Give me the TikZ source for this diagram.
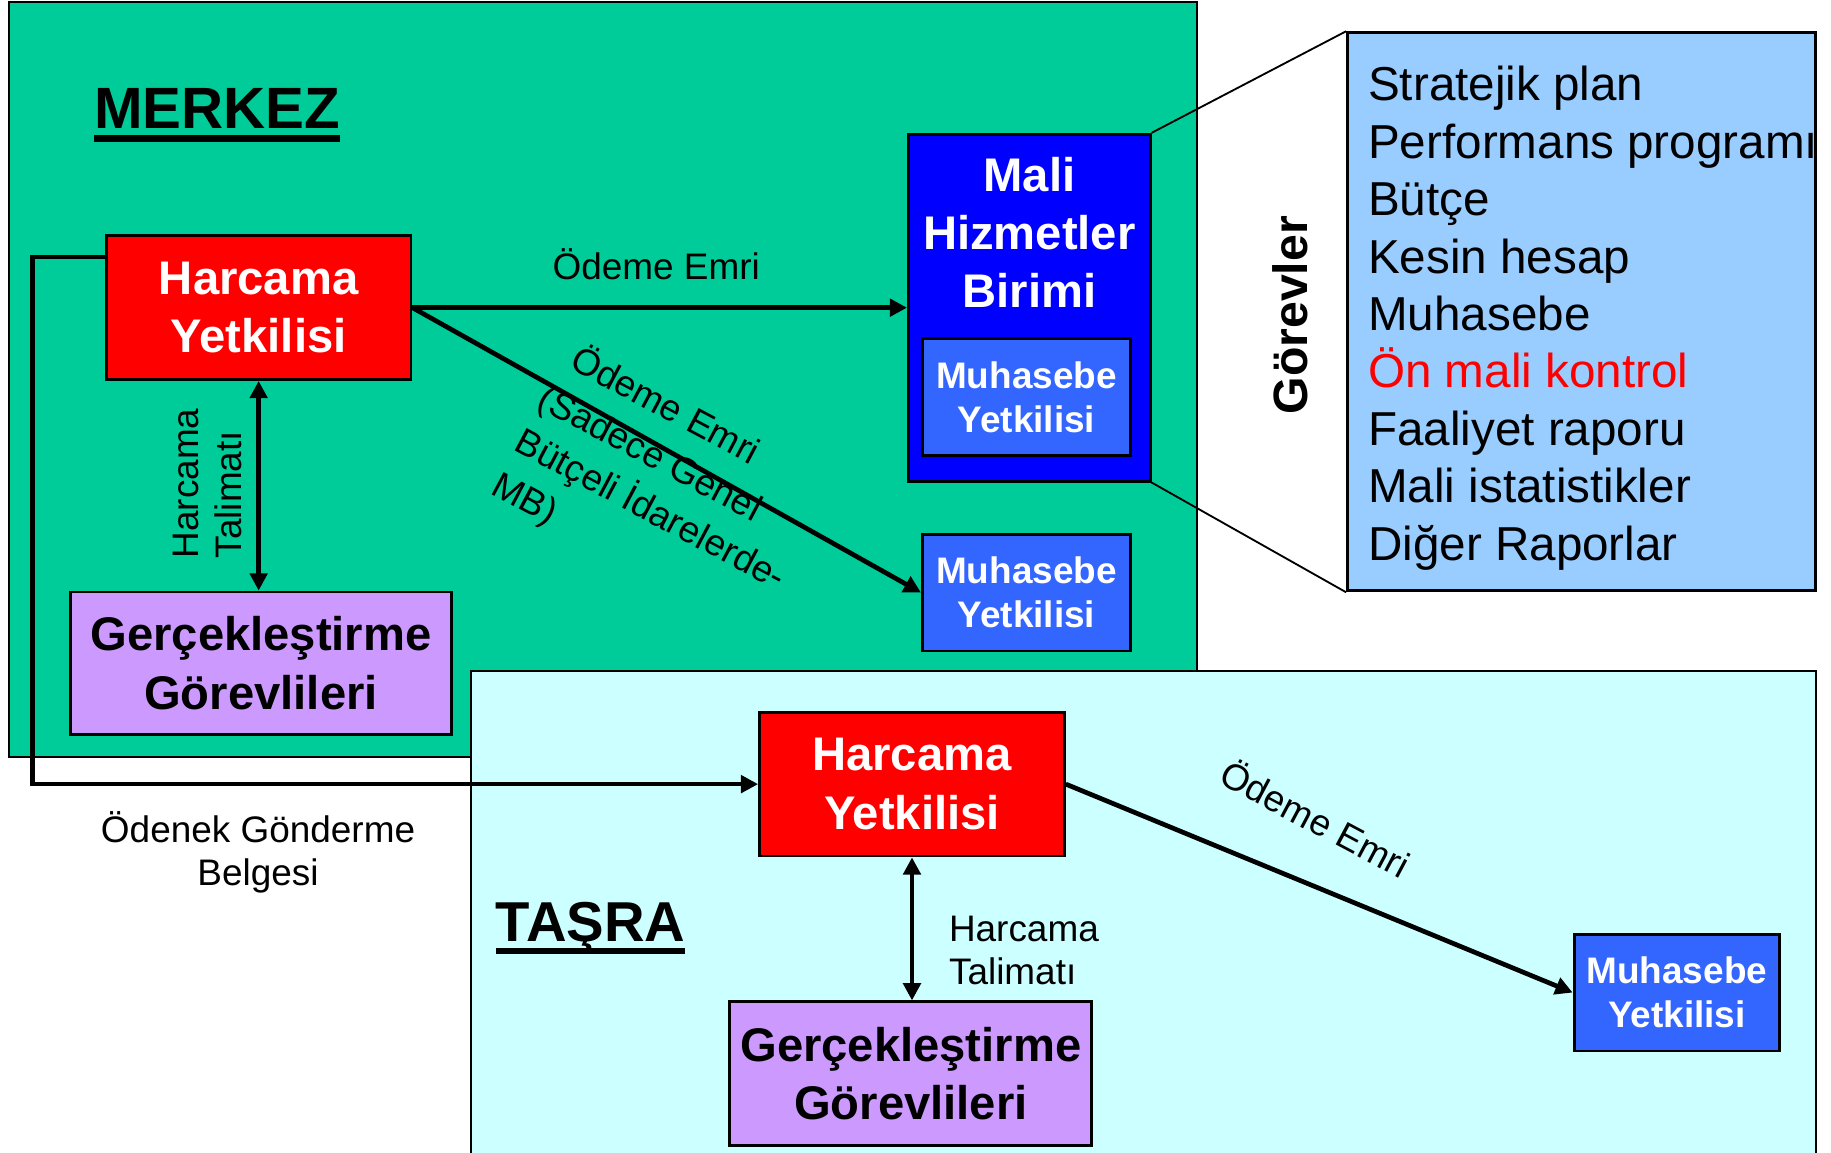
\documentclass[tikz,border=0pt]{standalone}
\usepackage{fontspec}
\setmainfont{Liberation Sans}
\usetikzlibrary{arrows.meta}

\definecolor{merkezgreen}{HTML}{00CC99}
\definecolor{tasracyan}{HTML}{CCFFFF}
\definecolor{harcamared}{HTML}{FF0000}
\definecolor{gorevlilila}{HTML}{CC99FF}
\definecolor{maliblue}{HTML}{0000FF}
\definecolor{muhasebeblue}{HTML}{3366FF}
\definecolor{panelblue}{HTML}{99CCFF}

\newcommand{\thickul}[1]{\setbox0\hbox{#1}\rlap{\rule[-0.23em]{\wd0}{0.115em}}\box0}

\begin{document}
\begin{tikzpicture}[x=0.1mm,y=-0.1mm,region/.style={draw,line width=0.5pt},unitlabel/.style={inner sep=0pt,align=center,font=\fontsize{11.5}{14.2}\selectfont\bfseries},unit/.style={unitlabel,draw,line width=0.7pt},harcama/.style={unit,fill=harcamared,text=white,minimum width=26.1mm,minimum height=12.3mm},gorevli/.style={unit,fill=gorevlilila,minimum height=12.2mm},muhasebe/.style={unit,fill=muhasebeblue,text=white,minimum width=17.8mm,minimum height=10mm,font=\fontsize{9}{10.8}\selectfont\bfseries},flow/.style={line width=1.15pt,-{Triangle[length=4.2pt,width=4.2pt]}},twoway/.style={line width=1.15pt,{Triangle[length=4.2pt,width=4.2pt]}-{Triangle[length=4.2pt,width=4.2pt]}},zoomline/.style={line width=0.45pt},note/.style={inner sep=0pt,font=\fontsize{9}{10.5}\selectfont},title/.style={inner sep=0pt,anchor=base west,font=\bfseries}]
\useasboundingbox (0,0) rectangle (1568,987);
\fill[white] (0,0) rectangle (1568,987);
\draw[region,fill=merkezgreen] (8,2) rectangle (1025,648);
\draw[region,fill=tasracyan] (403,575) rectangle (1555,1000);
\node[title,font=\fontsize{14.2}{17}\selectfont\bfseries] (merkez) at (80,110) {\thickul{MERKEZ}};
\node[title,font=\fontsize{13.7}{16}\selectfont\bfseries] (tasra) at (424,806) {\thickul{TAŞRA}};
\node[harcama] (hy) at (221.5,263.5) {Harcama\\Yetkilisi};
\node[gorevli,minimum width=32.7mm] (gg) at (223.5,568) {Gerçekleştirme\\Görevlileri};
\node[unit,fill=maliblue,minimum width=20.7mm,minimum height=29.7mm] (mhb) at (881.5,263.5) {};
\node[unitlabel,text=white] (mhbtext) at (881.5,199) {Mali\\Hizmetler\\Birimi};
\node[muhasebe] (imy) at (879,340) {Muhasebe\\Yetkilisi};
\node[muhasebe] (my) at (879,507.5) {Muhasebe\\Yetkilisi};
\node[unit,fill=panelblue,minimum width=40.1mm,minimum height=47.8mm] (panel) at (1354.5,267) {};
\node[unitlabel,rotate=90,font=\fontsize{11.75}{14}\selectfont\bfseries] (gorevler) at (1105,270) {Görevler};
\begin{scope}
\clip (panel.north west) rectangle (panel.south east);
\node[inner sep=0pt,anchor=north west,align=left,font=\fontsize{11.6}{14}\selectfont] (gorevlist) at (1171,56) {Stratejik plan\\Performans programı\\Bütçe\\Kesin hesap\\Muhasebe\\\textcolor{red}{Ön mali kontrol}\\Faaliyet raporu\\Mali istatistikler\\Diğer Raporlar};
\end{scope}
\node[harcama] (thy) at (781,671.5) {Harcama\\Yetkilisi};
\node[gorevli,minimum width=31mm,minimum height=12.3mm] (tgg) at (780,919.5) {Gerçekleştirme\\Görevlileri};
\node[muhasebe,minimum width=17.6mm] (tmy) at (1436,850) {Muhasebe\\Yetkilisi};
\coordinate (odenekA) at (28,220);
\coordinate (odenekB) at (28,671.5);
\draw[zoomline] (mhb.north east) -- (panel.north west);
\draw[zoomline] (mhb.south east) -- (panel.south west);
\draw[flow] (hy.east) -- (mhb.west);
\draw[flow] (hy.east) -- (my.west);
\draw[twoway] (hy.south) -- (hy.south |- gg.north);
\draw[twoway] (thy.south) -- (thy.south |- tgg.north);
\draw[flow] (thy.east) -- (tmy.west);
\draw[flow] (odenekA -| hy.west) -- (odenekA) -- (odenekB) -- (thy.west);
\node[note] (emri1) at (562,226) {Ödeme Emri};
\node[note,rotate=-28,align=left,font=\fontsize{9}{12}\selectfont] (emri2) at (567,418) {\hspace*{0.28em}Ödeme Emri\\(Sadece Genel\\Bütçeli İdarelerde-\\MB)};
\node[note,rotate=-28] (emri3) at (1127,700) {Ödeme Emri};
\node[note,rotate=90,align=left] (talimat1) at (178,414) {Harcama\\Talimatı};
\node[note,anchor=west,align=left] (talimat2) at (812,814) {Harcama\\Talimatı};
\node[note,align=center] (odenek) at (221,730) {Ödenek Gönderme\\Belgesi};
\end{tikzpicture}
\end{document}
